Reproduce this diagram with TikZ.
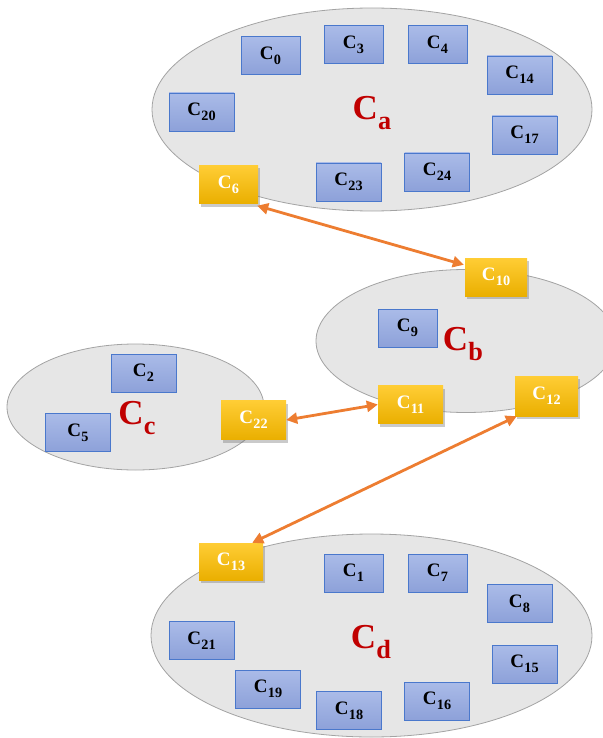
\documentclass[tikz,border=0pt]{standalone}
\usepackage{fontspec}
\setmainfont{Liberation Serif}
\usepackage{graphicx}
\usepackage{tikz}
\usetikzlibrary{arrows.meta,shapes.geometric,shadows}
\definecolor{grp}{HTML}{E6E6E6}
\definecolor{grpline}{HTML}{A3A3A3}
\definecolor{bltop}{HTML}{AABBE8}
\definecolor{blbot}{HTML}{8DA1D9}
\definecolor{blline}{HTML}{4A78CC}
\definecolor{yltop}{HTML}{FFCD35}
\definecolor{ylbot}{HTML}{EAAF00}
\definecolor{lnk}{HTML}{ED7D31}
\definecolor{tag}{HTML}{C00000}
\newcommand{\cn}[1]{C\kern0.3pt\raisebox{-0.27em}{\scalebox{0.75}{#1}}}
\tikzset{
  grpshape/.style={ellipse,draw=grpline,line width=0.8pt,fill=grp,inner sep=0pt},
  box/.style={rectangle,draw=blline,line width=0.9pt,top color=bltop,bottom color=blbot,
    minimum width=65pt,minimum height=38pt,inner sep=0pt,font=\fontsize{19}{21}\selectfont\bfseries},
  narrow/.style={minimum width=59pt},
  gbox/.style={rectangle,top color=yltop,bottom color=ylbot,text=white,
    minimum width=62pt,minimum height=38pt,inner sep=0pt,font=\fontsize{19}{21}\selectfont\bfseries,
    drop shadow={shadow xshift=2pt,shadow yshift=-3pt,opacity=0.35,fill=black!60}},
  grplbl/.style={text=tag,inner sep=0pt,font=\fontsize{35}{38}\selectfont\bfseries},
  arr/.style={{Triangle[length=11pt,width=11pt]}-{Triangle[length=11pt,width=11pt]},line width=2.8pt,color=lnk}}

\begin{document}
\begin{tikzpicture}[x=1pt,y=-1pt]
\useasboundingbox (0,0) rectangle (602,738);
% groups
\node[grpshape,minimum width=440pt,minimum height=203pt] (ga) at (372,109.5) {};
\node[grpshape,minimum width=300pt,minimum height=143pt] (gb) at (466,341) {};
\node[grpshape,minimum width=257pt,minimum height=126pt] (gc) at (135.5,407) {};
\node[grpshape,minimum width=441pt,minimum height=203pt] (gd) at (371.5,635.5) {};
\node[grplbl] (la) at (372,113) {\cn{a}};
\node[grplbl] (lb) at (463,344) {\cn{b}};
\node[grplbl] (lc) at (137,418) {\cn{c}};
\node[grplbl] (ld) at (371,642) {\cn{d}};
% group a
\node[box,narrow] (c0) at (270.5,55.5) {\cn{0}};
\node[box,narrow] (c3) at (353.5,44.5) {\cn{3}};
\node[box,narrow] (c4) at (437.5,44.5) {\cn{4}};
\node[box] (c14) at (519.5,75) {\cn{14}};
\node[box] (c20) at (201.5,112) {\cn{20}};
\node[box] (c17) at (524.5,135) {\cn{17}};
\node[box] (c23) at (348.5,182) {\cn{23}};
\node[box] (c24) at (437,172) {\cn{24}};
\node[gbox,minimum width=59pt] (c6) at (228.5,184.5) {\cn{6}};
% group b
\node[gbox] (c10) at (496,277) {\cn{10}};
\node[box,narrow] (c9) at (407.5,328) {\cn{9}};
\node[gbox,minimum width=65pt] (c11) at (410.5,404.5) {\cn{11}};
\node[gbox,minimum width=63pt,minimum height=40pt] (c12) at (546.5,396) {\cn{12}};
% group c
\node[box] (c2) at (143.5,373) {\cn{2}};
\node[box] (c5) at (78,432.5) {\cn{5}};
\node[gbox,minimum width=65pt,minimum height=39pt] (c22) at (253.5,420) {\cn{22}};
% group d
\node[gbox,minimum width=64pt,minimum height=37pt] (c13) at (231,561.5) {\cn{13}};
\node[box,narrow] (c1) at (353.5,573) {\cn{1}};
\node[box,narrow] (c7) at (437.5,573) {\cn{7}};
\node[box] (c8) at (519.5,603.5) {\cn{8}};
\node[box] (c21) at (201.5,640.5) {\cn{21}};
\node[box] (c15) at (524.5,664) {\cn{15}};
\node[box] (c19) at (268,689) {\cn{19}};
\node[box] (c18) at (349,710.5) {\cn{18}};
\node[box] (c16) at (437,701) {\cn{16}};
% links
\draw[arr] ([xshift=-1pt,yshift=-2pt]c6.south east) -- ([xshift=-1pt,yshift=-7pt]c10.north west);
\draw[arr] (c22.east) -- (c11.west);
\draw[arr] ([xshift=2pt]c12.south west) -- ([xshift=-11pt]c13.north east);
\end{tikzpicture}
\end{document}
